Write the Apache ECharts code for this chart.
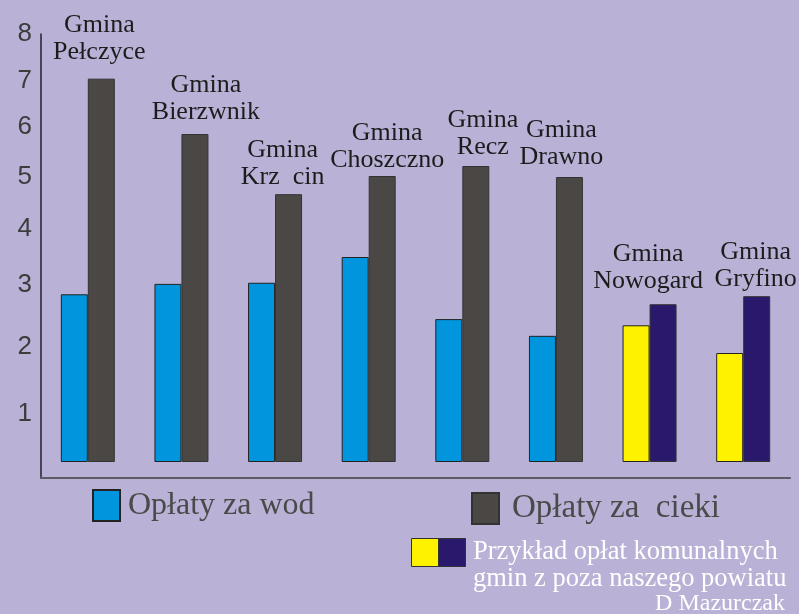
<!DOCTYPE html>
<html>
<head>
<meta charset="utf-8">
<script src="https://cdn.jsdelivr.net/npm/echarts@6/dist/echarts.min.js"></script>
<style>
  html, body { margin: 0; padding: 0; background: #b9b2d6; }
  #chart { width: 799px; height: 614px; }
</style>
</head>
<body>
<div id="chart"></div>
<script>
  // data
  const categories = ['Gmina\nPełczyce', 'Gmina\nBierzwnik', 'Gmina\nKrz  cin', 'Gmina\nChoszczno',
    'Gmina\nRecz', 'Gmina\nDrawno', 'Gmina\nNowogard', 'Gmina\nGryfino'];
  const wodaValues = [2.85, 3.02, 3.04, 3.5, 2.45, 2.18, 2.35, 1.91];
  const sciekiValues = [7.05, 5.86, 4.67, 5.02, 5.22, 5.0, 2.69, 2.82];
  const yTickLabels = [1, 2, 3, 4, 5, 6, 7, 8];
  // the last two gminy are drawn in the "komunalne" colours
  const komunalneFrom = 6;

  // the original axis is not linear: height of each label 0..8 above the bar base
  const scaleKnots = [0, 48, 115, 177, 233, 285, 335, 381, 428];
  function toAxis(v) {
    const i = Math.min(Math.floor(v), scaleKnots.length - 2);
    return scaleKnots[i] + (v - i) * (scaleKnots[i + 1] - scaleKnots[i]);
  }
  const tickPos = yTickLabels.map(toAxis);

  // hand placed names in the original, nudged a bit off the bar
  const labelOffsets = [[-2, -5], [11, 0], [-6, 5], [5, 6], [7, 3], [-8, 2], [-15, -2], [-1, 5]];

  const chart = echarts.init(document.getElementById('chart'));

  const serif = 'Liberation Serif';

  chart.setOption({
    backgroundColor: '#b9b2d6',
    animation: false,
    grid: { left: 41, right: 9, top: 34, bottom: 136 },
    xAxis: {
      type: 'category',
      data: categories,
      axisLine: { onZero: false, lineStyle: { color: '#5e5a66', width: 2 } },
      axisTick: { show: false },
      axisLabel: { show: false }
    },
    yAxis: {
      type: 'value',
      min: -16,
      max: 428,
      axisLine: { show: true, lineStyle: { color: '#222', width: 1.5 } },
      axisTick: { show: false },
      splitLine: { show: false },
      axisLabel: {
        customValues: tickPos,
        margin: 9,
        fontFamily: 'Liberation Sans',
        fontSize: 26,
        color: '#3c3c3c',
        formatter: function (val) {
          const i = tickPos.findIndex(p => Math.abs(p - val) < 0.01);
          return i >= 0 ? String(yTickLabels[i]) : '';
        }
      }
    },
    legend: [{
      data: ['Opłaty za wod'],
      left: 92, top: 489,
      padding: 0,
      icon: 'rect',
      itemWidth: 27, itemHeight: 31,
      textStyle: { fontFamily: serif, fontSize: 32, color: '#4a4a4a', padding: [0, 0, 0, 3] }
    }, {
      data: ['Opłaty za  cieki'],
      left: 471, top: 492,
      padding: 0,
      icon: 'rect',
      itemWidth: 27, itemHeight: 31,
      textStyle: { fontFamily: serif, fontSize: 33, color: '#4a4a4a', padding: [0, 0, 0, 8] }
    }],
    graphic: [
      { type: 'rect', left: 411, top: 538, shape: { width: 27, height: 28 },
        style: { fill: '#fff200', stroke: '#333', lineWidth: 1 } },
      { type: 'rect', left: 438, top: 538, shape: { width: 27, height: 28 },
        style: { fill: '#2a186c', stroke: '#333', lineWidth: 1 } },
      { type: 'text', left: 473, top: 539,
        style: { text: 'Przykład opłat komunalnych', fill: '#ffffff', font: '26.5px "Liberation Serif"' } },
      { type: 'text', left: 473, top: 566,
        style: { text: 'gmin z poza naszego powiatu', fill: '#ffffff', font: '26.5px "Liberation Serif"' } },
      { type: 'text', right: 14, top: 592,
        style: { text: 'D Mazurczak', fill: '#ffffff', font: '24px "Liberation Serif"', textAlign: 'right' } }
    ],
    series: [{
      name: 'Opłaty za wod',
      type: 'bar',
      barWidth: 27,
      barGap: '0%',
      itemStyle: { color: '#0095dc', borderColor: '#222', borderWidth: 1 },
      data: wodaValues.map((v, i) => i >= komunalneFrom
        ? { value: toAxis(v), itemStyle: { color: '#fff200' } }
        : toAxis(v))
    }, {
      name: 'Opłaty za  cieki',
      type: 'bar',
      barWidth: 27,
      itemStyle: { color: '#4b4745', borderColor: '#333', borderWidth: 1 },
      label: {
        show: true,
        position: 'top',
        distance: 8,
        formatter: '{b}',
        fontFamily: serif,
        fontSize: 26,
        lineHeight: 27,
        color: '#1c1c1c'
      },
      data: sciekiValues.map((v, i) => {
        const item = { value: toAxis(v), label: { offset: labelOffsets[i] } };
        if (i >= komunalneFrom) item.itemStyle = { color: '#2a186c' };
        return item;
      })
    }]
  });
</script>
</body>
</html>
